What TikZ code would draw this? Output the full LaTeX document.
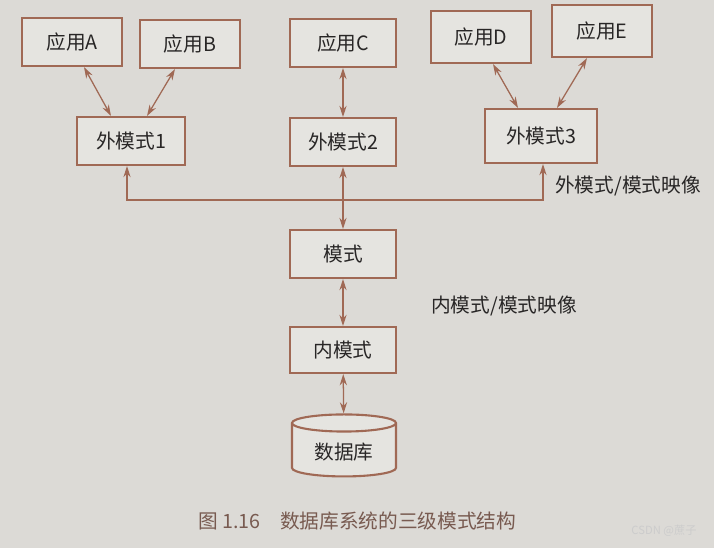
\documentclass[tikz,border=0pt]{standalone}
\usepackage{fontspec}
\setmainfont{Noto Sans CJK SC}
\usepackage{tikz}
\usetikzlibrary{arrows.meta,shapes.geometric}
\definecolor{linebrown}{RGB}{160,105,85}
\definecolor{pagegray}{RGB}{220,218,214}
\definecolor{boxgray}{RGB}{229,228,224}
\definecolor{inkgray}{RGB}{40,38,38}
\definecolor{capbrown}{RGB}{120,90,80}

\begin{document}
\begin{tikzpicture}[
  appbox/.style={draw=linebrown,line width=1.5pt,fill=boxgray,minimum width=2.5cm,minimum height=1.2cm,font=\fontsize{14}{16}\selectfont,text=inkgray},
  levelbox/.style={appbox,minimum width=2.7cm},
  dbbox/.style={cylinder,shape border rotate=90,aspect=0.25,draw=linebrown,line width=1.5pt,fill=boxgray,minimum width=2.6cm,minimum height=1.55cm,font=\fontsize{14}{16}\selectfont,text=inkgray},
  ar/.style={{Stealth[length=2.8mm,width=1.8mm]}-{Stealth[length=2.8mm,width=1.8mm]},line width=0.9pt,linebrown},
  arup/.style={-{Stealth[length=2.8mm,width=1.8mm]},line width=0.9pt,linebrown},
  maplabel/.style={font=\fontsize{14}{16}\selectfont,text=inkgray}
]
\fill[pagegray] (0,0) rectangle (17.85,-13.7);
\useasboundingbox (0,0) rectangle (17.85,-13.7);

% TOP: applications
\node[appbox] (appA) at (1.80,-1.05) {应用A};
\node[appbox] (appB) at (4.75,-1.10) {应用B};
\node[appbox,minimum width=2.65cm] (appC) at (8.575,-1.075) {应用C};
\node[appbox,minimum height=1.3cm] (appD) at (12.025,-0.925) {应用D};
\node[appbox,minimum height=1.3cm] (appE) at (15.05,-0.775) {应用E};

% external schemas
\node[levelbox] (ext1) at (3.275,-3.525) {外模式1};
\node[levelbox,minimum width=2.65cm] (ext2) at (8.575,-3.55) {外模式2};
\node[levelbox,minimum width=2.8cm,minimum height=1.35cm] (ext3) at (13.525,-3.4) {外模式3};
\draw[ar] ([xshift=3mm]appA.south) -- ([xshift=-5mm]ext1.north);
\draw[ar] ([xshift=-3.75mm]appB.south) -- ([xshift=4mm]ext1.north);
\draw[ar] (appC) -- (ext2);
\draw[ar] ([xshift=3mm]appD.south) -- ([xshift=-5.75mm]ext3.north);
\draw[ar] ([xshift=-3.75mm]appE.south) -- ([xshift=4mm]ext3.north);

% external/conceptual mapping
\coordinate (bus) at (8.575,-5.0);
\draw[arup] (bus) -| ([xshift=-1mm]ext1.south);
\draw[arup] (bus) -| ([xshift=0.5mm]ext3.south);
\node[maplabel] (map1) at (15.7,-4.65) {外模式/模式映像};

% conceptual and internal levels
\node[appbox,minimum width=2.65cm] (schema) at (8.575,-6.35) {模式};
\node[appbox,minimum width=2.65cm,minimum height=1.15cm] (internal) at (8.575,-8.75) {内模式};
\node[maplabel] (map2) at (12.6,-7.65) {内模式/模式映像};
\draw[ar] (ext2) -- (schema);
\draw[ar] (schema) -- (internal);

% BOTTOM: stored database
\node[dbbox] (db) at (8.6,-11.3) {数据库};
\draw[ar] (internal) -- (db);

\node[font=\fontsize{14}{16}\selectfont,text=capbrown] (caption) at (8.93,-13.03) {图 1.16\quad 数据库系统的三级模式结构};
\node[font=\fontsize{8}{9}\selectfont,text=white!80!black] (mark) at (16.6,-13.28) {CSDN @蔗子};
\end{tikzpicture}
\end{document}
